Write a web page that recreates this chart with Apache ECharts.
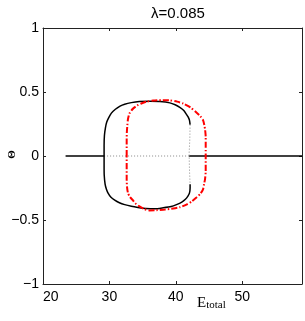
<!DOCTYPE html>
<html>
<head>
<meta charset="utf-8">
<script src="https://cdn.jsdelivr.net/npm/echarts@6/dist/echarts.min.js"></script>
<style>html,body{margin:0;padding:0;background:#fff}#c{width:305px;height:321px}</style>
</head>
<body>
<div id="c"></div>
<script>
// ---- data ----
const titleText = 'λ=0.085';
const yName = 'Θ';
const xTicks = [20, 30, 40, 50];
const yTicks = [-1, -0.5, 0, 0.5, 1];

// trivial branch (theta = 0)
const baseSolidLeft = [[23.4, 0], [29.2, 0]];
const baseDotted = [[29.2, 0], [42.0, 0]];
const baseSolidRight = [[42.0, 0], [59, 0]];
// unstable vertical connector (dotted)
const connectorDotted = [[42.15, 0.245], [42.1, 0.12], [42.0, 0.02], [42.05, -0.1], [42.15, -0.22]];

// black solid loop (E_total, Theta)
const blackLoop = [
  [42.15, 0.245], [42.05, 0.28], [41.85, 0.305], [41.6, 0.325], [41.2, 0.355], [40.6, 0.38],
  [39.9, 0.4], [39.1, 0.415], [37.6, 0.425], [36.1, 0.428], [34.5, 0.425], [33.3, 0.417],
  [32.3, 0.405], [31.6, 0.39], [30.9, 0.365], [30.3, 0.335], [29.9, 0.3], [29.6, 0.265],
  [29.4, 0.22], [29.25, 0.16], [29.2, 0.08], [29.2, 0],
  [29.2, -0.08], [29.22, -0.15], [29.35, -0.22], [29.55, -0.26], [29.8, -0.29], [30.2, -0.32],
  [30.8, -0.345], [31.5, -0.365], [32.3, -0.38], [33.3, -0.393], [34.3, -0.402], [35.5, -0.41],
  [36.8, -0.413], [38.1, -0.405], [39.3, -0.395], [40.1, -0.38], [40.9, -0.36], [41.4, -0.34],
  [41.8, -0.315], [42.05, -0.29], [42.15, -0.25], [42.15, -0.22]
];

// red dash-dot loop
const redLoop = [
  [32.6, 0], [32.6, 0.12], [32.62, 0.18], [32.7, 0.24], [32.8, 0.29], [33.0, 0.33], [33.3, 0.355],
  [33.6, 0.372], [34.2, 0.395], [34.8, 0.41], [35.6, 0.425], [36.6, 0.433], [37.8, 0.436],
  [39.1, 0.435], [40.2, 0.425], [41.1, 0.41], [42.2, 0.38], [43.1, 0.34], [43.7, 0.31],
  [44.1, 0.28], [44.3, 0.24], [44.4, 0.21], [44.5, 0.15], [44.5, 0],
  [44.5, -0.12], [44.4, -0.18], [44.25, -0.22], [44.1, -0.26], [43.7, -0.295], [43.1, -0.325],
  [42.4, -0.355], [41.6, -0.38], [40.6, -0.4], [39.6, -0.41], [38.4, -0.418], [37.1, -0.423],
  [36.0, -0.425], [35.3, -0.415], [34.4, -0.39], [33.9, -0.37], [33.6, -0.35], [33.1, -0.32],
  [32.8, -0.29], [32.65, -0.24], [32.6, -0.18], [32.6, 0]
];

const xMin = 20, xMax = 59, yMin = -1, yMax = 1;

// ---- chart ----
const chart = echarts.init(document.getElementById('c'), null, {renderer: 'canvas'});
const axisCol = '#222';
const fontFam = '"Liberation Sans", Arial, sans-serif';
const fmt = v => String(v).replace('-', '\u2212');
const xShown = v => xTicks.indexOf(v) >= 0 ? fmt(v) : '';
const yShown = v => yTicks.indexOf(v) >= 0 ? fmt(v) : '';

chart.setOption({
  animation: false,
  title: {
    text: titleText, left: 173, top: 1, textAlign: 'center',
    textStyle: {fontFamily: fontFam, fontSize: 15, fontWeight: 'normal', color: '#000'}
  },
  grid: {left: 43, right: 3, top: 28, bottom: 37, containLabel: false, outerBoundsMode: 'none'},
  xAxis: [
    {
      type: 'value', min: xMin, max: xMax, interval: 10, position: 'bottom',
      axisLine: {show: true, onZero: false, lineStyle: {color: axisCol, width: 1}},
      axisTick: {show: true, inside: true, length: 3, lineStyle: {color: axisCol}},
      splitLine: {show: false},
      axisLabel: {formatter: xShown, showMaxLabel: false, alignMinLabel: 'left', margin: 6,
        color: '#000', fontSize: 14, fontFamily: fontFam}
    },
    {
      type: 'value', min: xMin, max: xMax, interval: 10, position: 'top',
      axisLine: {show: true, onZero: false, lineStyle: {color: axisCol, width: 1}},
      axisTick: {show: true, inside: true, length: 3, lineStyle: {color: axisCol}},
      splitLine: {show: false}, axisLabel: {show: false}
    }
  ],
  yAxis: [
    {
      type: 'value', min: yMin, max: yMax, interval: 0.5, position: 'left',
      axisLine: {show: true, onZero: false, lineStyle: {color: axisCol, width: 1}},
      axisTick: {show: true, inside: true, length: 3, lineStyle: {color: axisCol}},
      splitLine: {show: false},
      axisLabel: {formatter: yShown, margin: 4, color: '#000', fontSize: 14, fontFamily: fontFam}
    },
    {
      type: 'value', min: yMin, max: yMax, interval: 0.5, position: 'right',
      axisLine: {show: true, onZero: false, lineStyle: {color: axisCol, width: 1}},
      axisTick: {show: true, inside: true, length: 3, lineStyle: {color: axisCol}},
      splitLine: {show: false}, axisLabel: {show: false}
    }
  ],
  graphic: [
    {
      type: 'text', left: 197, top: 296, silent: true,
      style: {
        text: '{e|E}{s|total}',
        rich: {
          e: {fontFamily: '"Liberation Serif", serif', fontSize: 15, fill: '#000', verticalAlign: 'bottom'},
          s: {fontFamily: '"Liberation Serif", serif', fontSize: 11, fill: '#000', padding: [12, 0, 0, 0], verticalAlign: 'top'}
        }
      }
    },
    {
      type: 'text', x: 12.5, y: 154.5, rotation: Math.PI / 2, silent: true,
      style: {
        text: yName, align: 'center', verticalAlign: 'middle',
        font: 'bold 11px "Liberation Serif", serif', fill: '#000'
      }
    }
  ],
  series: [
    {type: 'line', data: baseSolidLeft, symbol: 'none', lineStyle: {color: '#000', width: 1.5}},
    {type: 'line', data: baseDotted, symbol: 'none', lineStyle: {color: '#888', width: 1, type: [1, 2]}},
    {type: 'line', data: baseSolidRight, symbol: 'none', lineStyle: {color: '#000', width: 1.5}},
    {type: 'line', data: connectorDotted, symbol: 'none', lineStyle: {color: '#888', width: 1, type: [1, 2]}},
    {type: 'line', data: blackLoop, symbol: 'none', smooth: 0.2, lineStyle: {color: '#000', width: 1.5}},
    {type: 'line', data: redLoop, symbol: 'none', smooth: 0.2, lineStyle: {color: '#ff0000', width: 2, type: [6, 2, 1.5, 2]}}
  ]
});
</script>
</body>
</html>
